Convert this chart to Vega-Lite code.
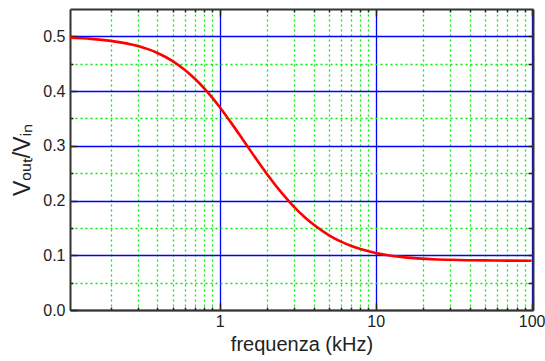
{
  "$schema": "https://vega.github.io/schema/vega-lite/v6.json",
  "width": 463,
  "height": 301,
  "autosize": {"type": "none"},
  "padding": {"left": 70, "top": 9, "right": 12, "bottom": 51},
  "background": "white",
  "config": {
    "view": {"stroke": null},
    "axis": {
      "labelFont": "Liberation Sans",
      "titleFont": "Liberation Sans",
      "labelFontSize": 16,
      "titleFontSize": 20,
      "titleFontWeight": "normal",
      "labelColor": "#222",
      "titleColor": "#222",
      "domainColor": "#333",
      "domainWidth": 2,
      "tickColor": "#222",
      "tickWidth": 1.5,
      "gridOpacity": 1
    }
  },
  "data": {
    "values": [
      {"f": 0.11, "v": 0.4975}, {"f": 0.15, "v": 0.4954}, {"f": 0.2, "v": 0.4918},
      {"f": 0.3, "v": 0.4822}, {"f": 0.4, "v": 0.4696}, {"f": 0.5, "v": 0.4549},
      {"f": 0.6, "v": 0.4387}, {"f": 0.7, "v": 0.4217}, {"f": 0.8, "v": 0.4045},
      {"f": 0.9, "v": 0.3875}, {"f": 1, "v": 0.371}, {"f": 1.2, "v": 0.3401},
      {"f": 1.4, "v": 0.3126}, {"f": 1.6, "v": 0.2885}, {"f": 1.8, "v": 0.2676},
      {"f": 2, "v": 0.2494}, {"f": 2.5, "v": 0.2139}, {"f": 3, "v": 0.1886},
      {"f": 3.5, "v": 0.17}, {"f": 4, "v": 0.1561}, {"f": 5, "v": 0.137},
      {"f": 6, "v": 0.1249}, {"f": 7, "v": 0.1169}, {"f": 8, "v": 0.1113},
      {"f": 10, "v": 0.1042}, {"f": 12, "v": 0.1001}, {"f": 15, "v": 0.0966},
      {"f": 20, "v": 0.0938}, {"f": 25, "v": 0.0924}, {"f": 30, "v": 0.0917},
      {"f": 40, "v": 0.0909}, {"f": 50, "v": 0.0906}, {"f": 70, "v": 0.0903},
      {"f": 100, "v": 0.0901}
    ]
  },
  "layer": [
    {
      "mark": {"type": "line", "opacity": 0},
      "encoding": {
        "x": {"field": "f", "type": "quantitative",
          "scale": {"type": "log", "domain": [0.11, 102], "nice": false},
          "axis": {"orient": "bottom", "values": [0.2,0.3,0.4,0.5,0.6,0.7,0.8,0.9,2,3,4,5,6,7,8,9,20,30,40,50,60,70,80,90],
            "grid": true, "gridColor": "#00ee00", "gridDash": [2, 3], "gridWidth": 1.3,
            "labels": false, "title": null, "domain": false, "tickSize": -3}},
        "y": {"field": "v", "type": "quantitative",
          "scale": {"domain": [0, 0.55], "nice": false},
          "axis": {"orient": "left", "values": [0.05,0.15,0.25,0.35,0.45],
            "grid": true, "gridColor": "#00ee00", "gridDash": [2, 3], "gridWidth": 1.3,
            "labels": false, "title": null, "domain": false, "tickSize": -3}}
      }
    },
    {
      "mark": {"type": "line", "opacity": 0},
      "encoding": {
        "x": {"field": "f", "type": "quantitative",
          "scale": {"type": "log", "domain": [0.11, 102], "nice": false},
          "axis": {"orient": "top", "values": [0.2,0.3,0.4,0.5,0.6,0.7,0.8,0.9,2,3,4,5,6,7,8,9,20,30,40,50,60,70,80,90,1,10,100],
            "grid": false, "labels": false, "title": null, "domain": true,
            "tickSize": {"expr": "indexof([1,10,100], datum.value) >= 0 ? -7 : -3"}}},
        "y": {"field": "v", "type": "quantitative",
          "scale": {"domain": [0, 0.55], "nice": false},
          "axis": {"orient": "right", "values": [0.05,0.1,0.15,0.2,0.25,0.3,0.35,0.4,0.45,0.5],
            "grid": false, "labels": false, "title": null, "domain": true, "tickSize": -5}}
      }
    },
    {
      "mark": {"type": "line", "color": "#ff0000", "strokeWidth": 2.6, "interpolate": "monotone"},
      "encoding": {
        "x": {"field": "f", "type": "quantitative",
          "scale": {"type": "log", "domain": [0.11, 102], "nice": false},
          "axis": {"orient": "bottom", "values": [1, 10, 100],
            "grid": true, "gridColor": "#0000ff", "gridWidth": 1.3,
            "labels": true, "labelPadding": 10, "title": "frequenza (kHz)", "titlePadding": 5,
            "domain": true, "tickSize": -7}},
        "y": {"field": "v", "type": "quantitative",
          "scale": {"domain": [0, 0.55], "nice": false},
          "axis": {"orient": "left", "values": [0, 0.1, 0.2, 0.3, 0.4, 0.5], "format": ".1f",
            "grid": true, "gridColor": "#0000ff", "gridWidth": 1.3,
            "labels": true, "labelPadding": 12, "title": "Vₒᵤₜ/Vᵢₙ", "titleFontSize": 23, "titlePadding": 8,
            "domain": true, "tickSize": -7}}
      }
    }
  ],
  "resolve": {"axis": {"x": "independent", "y": "independent"}}
}
